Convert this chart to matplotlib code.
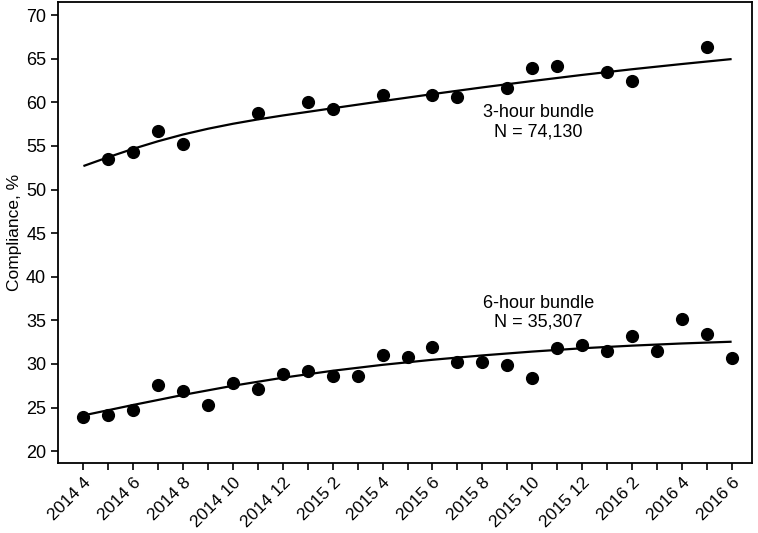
import numpy as np
import matplotlib
matplotlib.use("Agg")
import matplotlib.pyplot as plt

plt.rcParams['font.family'] = ['Liberation Sans', 'DejaVu Sans']

### Daten ###
# Monate 2014 4 ... 2016 6 (Index 0..26)
month_labels = ["2014 4", "2014 5", "2014 6", "2014 7", "2014 8", "2014 9", "2014 10", "2014 11",
                "2014 12", "2015 1", "2015 2", "2015 3", "2015 4", "2015 5", "2015 6", "2015 7",
                "2015 8", "2015 9", "2015 10", "2015 11", "2015 12", "2016 1", "2016 2", "2016 3",
                "2016 4", "2016 5", "2016 6"]

# 3-hour bundle (Punkte)
idx_3h = [1, 2, 3, 4, 7, 9, 10, 12, 14, 15, 17, 18, 19, 21, 22, 25]
val_3h = [53.5, 54.3, 56.7, 55.2, 58.8, 60.1, 59.2, 60.9, 60.8, 60.6, 61.6, 63.9, 64.2, 63.5, 62.4, 66.4]

# 6-hour bundle (Punkte)
idx_6h = list(range(27))
val_6h = [23.9, 24.1, 24.7, 27.6, 26.9, 25.3, 27.8, 27.1, 28.9, 29.2, 28.6, 28.6, 31.0, 30.8,
          32.0, 30.2, 30.2, 29.9, 28.4, 31.8, 32.2, 31.5, 33.2, 31.5, 35.2, 33.4, 30.7]

# Trendlinien
fit_idx_3h = [0, 1, 2, 3, 4, 5, 6, 7, 8, 10, 12, 14, 16, 18, 20, 22, 24, 26]
fit_3h = [52.7, 53.72, 54.68, 55.55, 56.32, 56.98, 57.55, 58.05, 58.5, 59.33, 60.15, 60.95,
          61.72, 62.45, 63.15, 63.8, 64.4, 64.97]
fit_idx_6h = [0, 2, 4, 6, 8, 10, 12, 14, 16, 18, 20, 22, 24, 26]
fit_6h = [24.1, 25.3, 26.45, 27.5, 28.42, 29.22, 29.9, 30.48, 30.98, 31.42, 31.8, 32.1,
          32.35, 32.55]

### Plot ###
fig = plt.figure(figsize=(7.58, 5.33), dpi=100)
ax = fig.add_axes([0.0765, 0.131, 0.916, 0.865])

ax.plot(fit_idx_3h, fit_3h, color="black", lw=1.6, solid_capstyle="butt")
ax.plot(fit_idx_6h, fit_6h, color="black", lw=1.6, solid_capstyle="butt")
ax.scatter(idx_3h, val_3h, s=72, color="black", zorder=3)
ax.scatter(idx_6h, val_6h, s=72, color="black", zorder=3)

ax.text(18.25, 57.7, "3-hour bundle\nN = 74,130", ha="center", va="center", fontsize=13,
        linespacing=1.15)
ax.text(18.25, 35.9, "6-hour bundle\nN = 35,307", ha="center", va="center", fontsize=13,
        linespacing=1.15)

ax.set_xlim(-1.02, 26.83)
ax.set_ylim(18.62, 71.5)
ax.set_yticks(np.arange(20, 71, 5))
ax.set_xticks(range(len(month_labels)))
ax.set_xticklabels([lab if i % 2 == 0 else "" for i, lab in enumerate(month_labels)],
                   rotation=45, ha="right", rotation_mode="anchor", fontsize=12.5)
ax.tick_params(axis="y", labelsize=13)
ax.tick_params(direction="out", length=5, width=1.2)
ax.set_ylabel("Compliance, %", fontsize=12.5, labelpad=3)
for s in ax.spines.values():
    s.set_linewidth(1.3)

fig.savefig("out.png", dpi=100)
